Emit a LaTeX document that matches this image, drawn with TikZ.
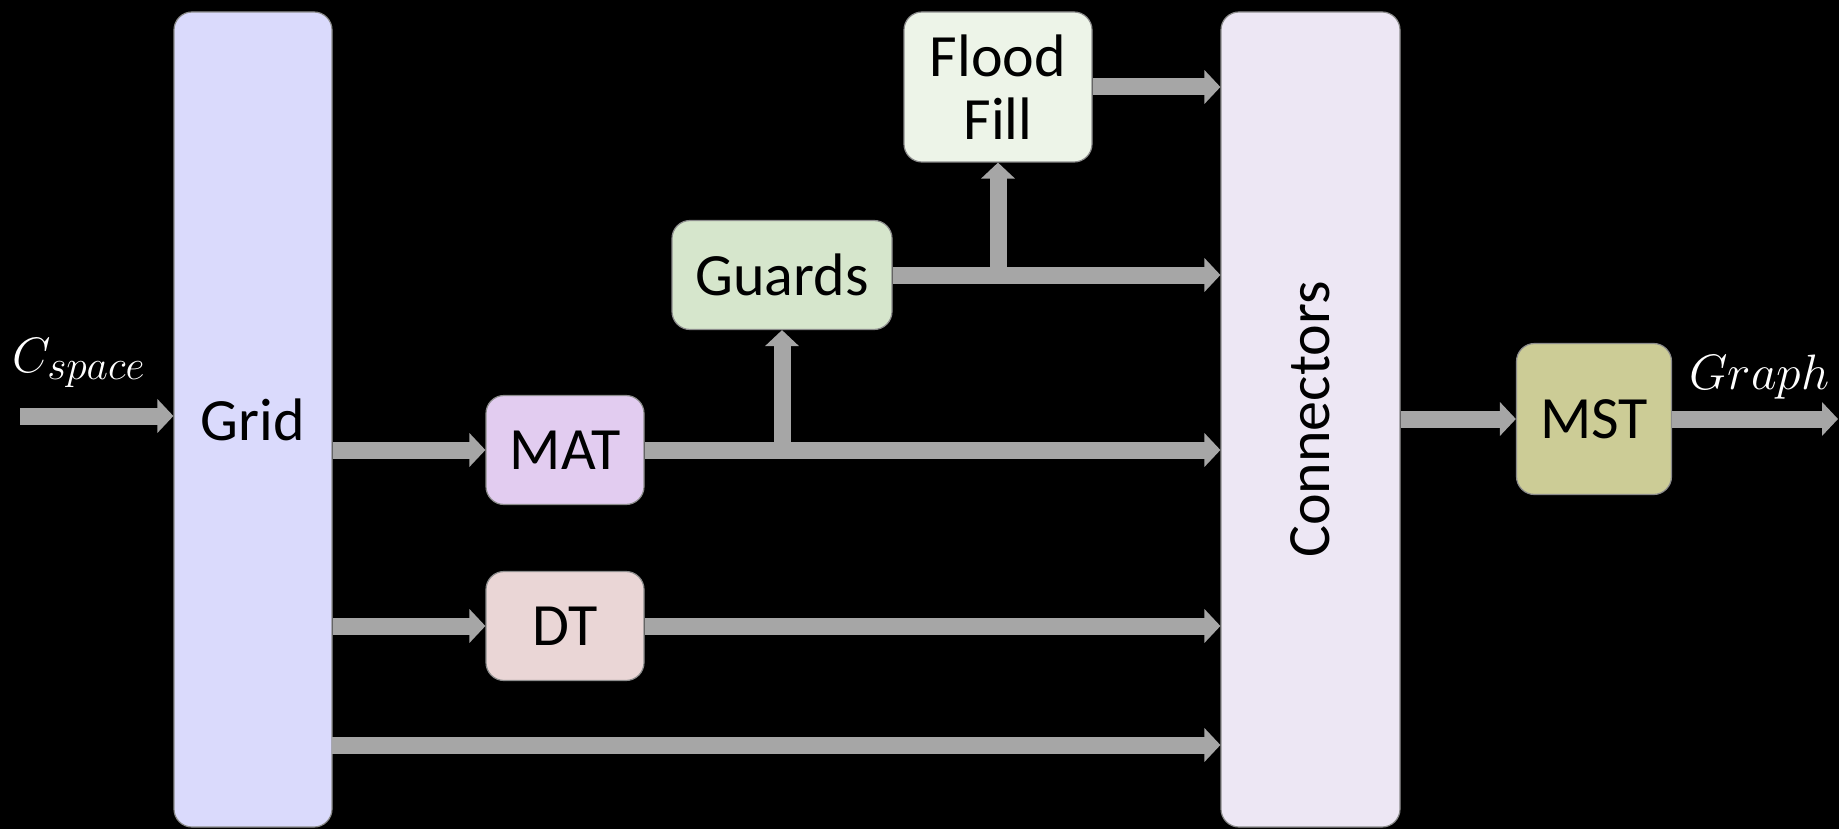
\documentclass[tikz,border=0pt]{standalone}
\usepackage{fontspec}
\setmainfont{Carlito}
\usetikzlibrary{arrows.meta}

\definecolor{gridfill}{RGB}{218,218,252}
\definecolor{connfill}{RGB}{237,231,244}
\definecolor{matfill}{RGB}{226,204,240}
\definecolor{dtfill}{RGB}{234,214,214}
\definecolor{guardfill}{RGB}{214,230,204}
\definecolor{floodfill}{RGB}{237,244,232}
\definecolor{mstfill}{RGB}{204,204,150}
\definecolor{flowgray}{RGB}{166,166,166}

\begin{document}
\begin{tikzpicture}[x=1pt,y=-1pt,
  blk/.style={draw=black!45,line width=1.2pt,rounded corners=18pt,inner sep=0pt,
    align=center,font=\fontsize{60}{63}\selectfont},
  flow/.style={draw=flowgray,line width=17pt,-{Triangle[length=16pt,width=33pt]}},
  lbl/.style={text=white,inner sep=0pt,scale=2,font=\fontsize{24.88}{25}\selectfont}]
  % black page
  \fill[black] (0,0) rectangle (1839,829);
  \useasboundingbox (0,0) rectangle (1839,829);
  % blocks
  \node[blk,fill=gridfill,minimum width=158pt,minimum height=815pt] (grid) at (253,419.5) {Grid};
  \node[blk,fill=connfill,minimum width=179pt,minimum height=815pt] (conn) at (1310.5,419.5) {};
  \node[rotate=90,inner sep=0pt,font=\fontsize{60}{63}\selectfont] (connlbl) at (conn) {Connectors};
  \node[blk,fill=matfill,minimum width=158pt,minimum height=109pt] (mat) at (565,450) {MAT};
  \node[blk,fill=dtfill,minimum width=158pt,minimum height=109pt] (dt) at (565,626) {DT};
  \node[blk,fill=guardfill,minimum width=220pt,minimum height=109pt] (guards) at (782,275) {Guards};
  \node[blk,fill=floodfill,minimum width=188pt,minimum height=150pt] (flood) at (998,87) {Flood\\Fill};
  \node[blk,fill=mstfill,minimum width=155pt,minimum height=151pt] (mst) at (1594,419) {MST};
  % free ends
  \coordinate (in) at (20,416);
  \coordinate (out) at (1838,419);
  \coordinate (low) at (332,745);
  \coordinate (gb) at (guards.south |- mat.east);
  \coordinate (fb) at (flood.south |- guards.east);
  % labels
  \node[lbl,anchor=base west] (cin) at (12,372) {$C_{space}$};
  \node[lbl,anchor=base west] (gout) at (1689,389) {$Graph$};
  % flows
  \draw[flow] (in) -- (in -| grid.west);
  \draw[flow] (mat.west -| grid.east) -- (mat.west);
  \draw[flow] (dt.west -| grid.east) -- (dt.west);
  \draw[flow] (low) -- (low -| conn.west);
  \draw[flow] (mat.east) -- (mat.east -| conn.west);
  \draw[flow] (dt.east) -- (dt.east -| conn.west);
  \draw[flow] (gb) -- (guards.south);
  \draw[flow] (guards.east) -- (guards.east -| conn.west);
  \draw[flow] (fb) -- (flood.south);
  \draw[flow] (flood.east) -- (flood.east -| conn.west);
  \draw[flow] (conn.east |- mst.west) -- (mst.west);
  \draw[flow] (mst.east) -- (out);
\end{tikzpicture}
\end{document}
